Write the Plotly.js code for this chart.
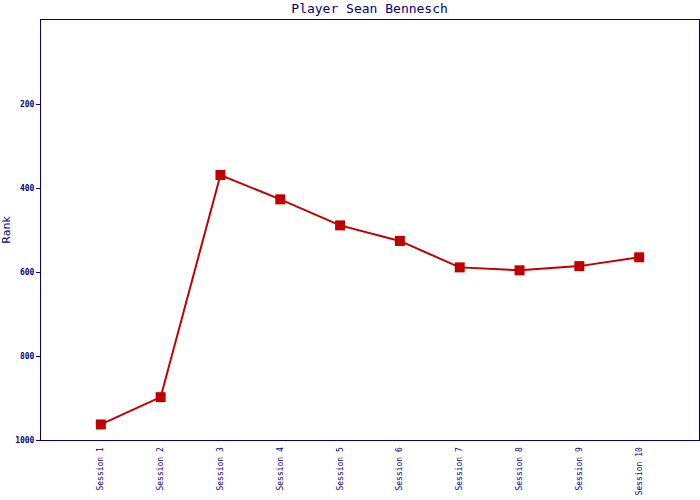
<!DOCTYPE html>
<html><head><meta charset="utf-8">
<script src="https://cdn.plot.ly/plotly-3.0.1.min.js"></script>
<style>html,body{margin:0;padding:0;background:#fff}#c{width:700px;height:500px}</style>
</head><body><div id="c"></div>
<script>
const sessions = ["Session 1","Session 2","Session 3","Session 4","Session 5","Session 6","Session 7","Session 8","Session 9","Session 10"];
const ranks = [963, 898, 369, 427, 489, 526, 589, 596, 586, 565];
const yTicks = [200, 400, 600, 800, 1000];
const navy = "#000080";
const trace = {
  x: sessions, y: ranks, type: "scatter", mode: "lines+markers",
  line: {color: "#C00000", width: 2},
  marker: {symbol: "square", size: 10, color: "#C00000"},
  hoverinfo: "x+y"
};
const layout = {
  width: 700, height: 500,
  margin: {l: 41, r: 1, t: 20, b: 60},
  paper_bgcolor: "#fff", plot_bgcolor: "#fff",
  showlegend: false,
  title: {text: "Player Sean Bennesch", font: {family: "DejaVu Sans Mono", size: 13, color: navy}, x: 0.528, xanchor: "center", y: 0.984, yanchor: "middle"},
  xaxis: {
    type: "category", range: [-1, 10], showgrid: false, zeroline: false,
    showline: true, linecolor: navy, linewidth: 1, mirror: true,
    ticks: "", tickangle: -90, ticklabelstandoff: 3,
    tickfont: {family: "DejaVu Sans Mono", size: 8, color: navy}
  },
  yaxis: {
    range: [1000, 0], showgrid: false, zeroline: false,
    showline: true, linecolor: navy, linewidth: 1, mirror: true,
    tickvals: yTicks, ticktext: yTicks.map(String),
    ticks: "outside", ticklen: 4, tickcolor: navy,
    tickfont: {family: "DejaVu Sans Mono", size: 8, color: navy, weight: "bold"},
    title: {text: "Rank", font: {family: "DejaVu Sans", size: 11, color: navy}, standoff: 4}
  }
};
Plotly.newPlot("c", [trace], layout, {displayModeBar: false, staticPlot: true});
</script></body></html>
